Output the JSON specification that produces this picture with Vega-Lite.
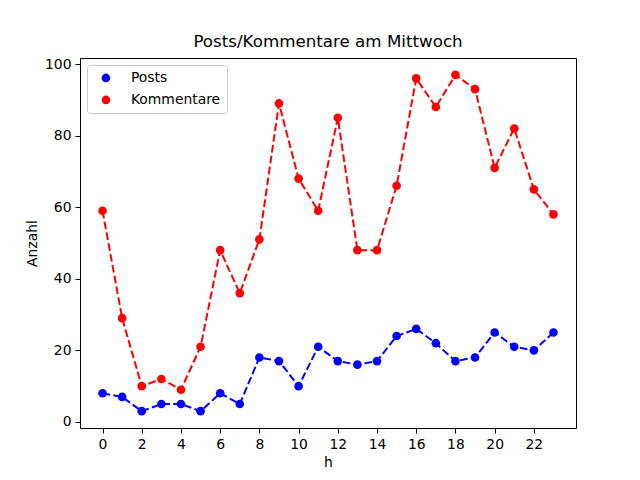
{
  "$schema": "https://vega.github.io/schema/vega-lite/v6.json",
  "autosize": "none",
  "width": 496,
  "height": 370,
  "padding": {"left": 80, "top": 58, "right": 64, "bottom": 52},
  "background": "white",
  "title": {
    "text": "Posts/Kommentare am Mittwoch",
    "font": "DejaVu Sans",
    "fontSize": 16.7,
    "fontWeight": "normal",
    "color": "black",
    "anchor": "middle",
    "offset": 6
  },
  "data": {
    "values": [
      {"h": 0, "Posts": 8, "Kommentare": 59},
      {"h": 1, "Posts": 7, "Kommentare": 29},
      {"h": 2, "Posts": 3, "Kommentare": 10},
      {"h": 3, "Posts": 5, "Kommentare": 12},
      {"h": 4, "Posts": 5, "Kommentare": 9},
      {"h": 5, "Posts": 3, "Kommentare": 21},
      {"h": 6, "Posts": 8, "Kommentare": 48},
      {"h": 7, "Posts": 5, "Kommentare": 36},
      {"h": 8, "Posts": 18, "Kommentare": 51},
      {"h": 9, "Posts": 17, "Kommentare": 89},
      {"h": 10, "Posts": 10, "Kommentare": 68},
      {"h": 11, "Posts": 21, "Kommentare": 59},
      {"h": 12, "Posts": 17, "Kommentare": 85},
      {"h": 13, "Posts": 16, "Kommentare": 48},
      {"h": 14, "Posts": 17, "Kommentare": 48},
      {"h": 15, "Posts": 24, "Kommentare": 66},
      {"h": 16, "Posts": 26, "Kommentare": 96},
      {"h": 17, "Posts": 22, "Kommentare": 88},
      {"h": 18, "Posts": 17, "Kommentare": 97},
      {"h": 19, "Posts": 18, "Kommentare": 93},
      {"h": 20, "Posts": 25, "Kommentare": 71},
      {"h": 21, "Posts": 21, "Kommentare": 82},
      {"h": 22, "Posts": 20, "Kommentare": 65},
      {"h": 23, "Posts": 25, "Kommentare": 58}
    ]
  },
  "transform": [{"fold": ["Posts", "Kommentare"], "as": ["Serie", "Anzahl"]}],
  "encoding": {
    "x": {
      "field": "h",
      "type": "quantitative",
      "title": "h",
      "scale": {"domain": [-1.15, 24.15], "nice": false, "zero": false},
      "axis": {"values": [0, 2, 4, 6, 8, 10, 12, 14, 16, 18, 20, 22]}
    },
    "y": {
      "field": "Anzahl",
      "type": "quantitative",
      "title": "Anzahl",
      "scale": {"domain": [-1.7, 101.7], "nice": false, "zero": false},
      "axis": {"values": [0, 20, 40, 60, 80, 100]}
    },
    "color": {
      "field": "Serie",
      "type": "nominal",
      "scale": {"domain": ["Posts", "Kommentare"], "range": ["#0000ff", "#ff0000"]},
      "legend": {
        "title": null,
        "orient": "none",
        "legendX": 7,
        "legendY": 7,
        "symbolType": "circle",
        "symbolStrokeWidth": 0,
        "symbolSize": 75,
        "symbolOffset": 6,
        "labelOffset": 18,
        "labelFont": "DejaVu Sans",
        "labelFontSize": 13.9,
        "labelColor": "black",
        "rowPadding": 7,
        "padding": 6,
        "strokeColor": "#cccccc",
        "fillColor": "rgba(255,255,255,0.8)",
        "cornerRadius": 3
      }
    }
  },
  "layer": [
    {
      "mark": {"type": "line", "strokeDash": [7.7, 3.3], "strokeWidth": 2}
    },
    {
      "mark": {"type": "point", "filled": true, "shape": "circle", "size": 75, "opacity": 1}
    }
  ],
  "config": {
    "view": {"stroke": "black", "strokeWidth": 1},
    "axis": {
      "domain": false,
      "grid": false,
      "ticks": true,
      "tickColor": "black",
      "tickSize": 5,
      "tickWidth": 1,
      "labelPadding": 4,
      "labelFont": "DejaVu Sans",
      "labelFontSize": 13.9,
      "labelColor": "black",
      "titleFont": "DejaVu Sans",
      "titleFontSize": 13.9,
      "titleFontWeight": "normal",
      "titleColor": "black",
      "titlePadding": 5
    }
  }
}
